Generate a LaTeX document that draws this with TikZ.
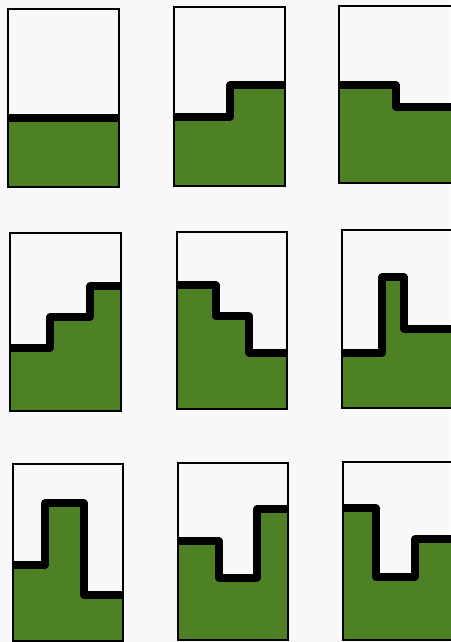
\documentclass[tikz,border=0pt]{standalone}
\usepackage{xcolor}
\definecolor{papercolor}{RGB}{248,248,250}
\definecolor{grasscolor}{RGB}{78,128,38}
\tikzset{
    frame/.style={draw=black, line width=0.8pt},
    ground/.style={fill=grasscolor},
    ridge/.style={draw=black, line width=4pt, line join=round}
}
% #1 left, #2 top, #3 right, #4 bottom, #5 profile from left edge to right edge
\newcommand{\panel}[5]{%
    \fill[ground] (#1,#4) -- #5 -- (#3,#4) -- cycle;
    \draw[ridge] #5;
    \draw[frame] (#1,#2) rectangle (#3,#4);
}

\begin{document}
\begin{tikzpicture}[x=0.02cm, y=-0.02cm]
    \fill[papercolor] (0,0) rectangle (450,642);
    \useasboundingbox (0,0) rectangle (450,642);

    % top row
    \panel{8}{9}{119}{187}{(8,118) -- (119,118)}
    \panel{174}{7}{285}{186}{(174,117) -- (230,117) -- (230,85) -- (285,85)}
    \panel{339}{6}{452}{183}{(339,85) -- (396,85) -- (396,107) -- (452,107)}

    % middle row
    \panel{10}{233}{121}{411}{(10,348) -- (50,348) -- (50,317) -- (90,317) -- (90,286) -- (121,286)}
    \panel{177}{232}{287}{409}{(177,285) -- (216,285) -- (216,316) -- (249,316) -- (249,353) -- (287,353)}
    \panel{342}{230}{452}{408}{(342,353) -- (382,353) -- (382,277) -- (404,277) -- (404,329) -- (452,329)}

    % bottom row
    \panel{13}{464}{123}{641}{(13,565) -- (45,565) -- (45,503) -- (84,503) -- (84,595) -- (123,595)}
    \panel{178}{463}{288}{640}{(178,541) -- (219,541) -- (219,578) -- (257,578) -- (257,509) -- (288,509)}
    \panel{343}{462}{452}{640}{(343,508) -- (376,508) -- (376,577) -- (415,577) -- (415,539) -- (452,539)}
\end{tikzpicture}
\end{document}
